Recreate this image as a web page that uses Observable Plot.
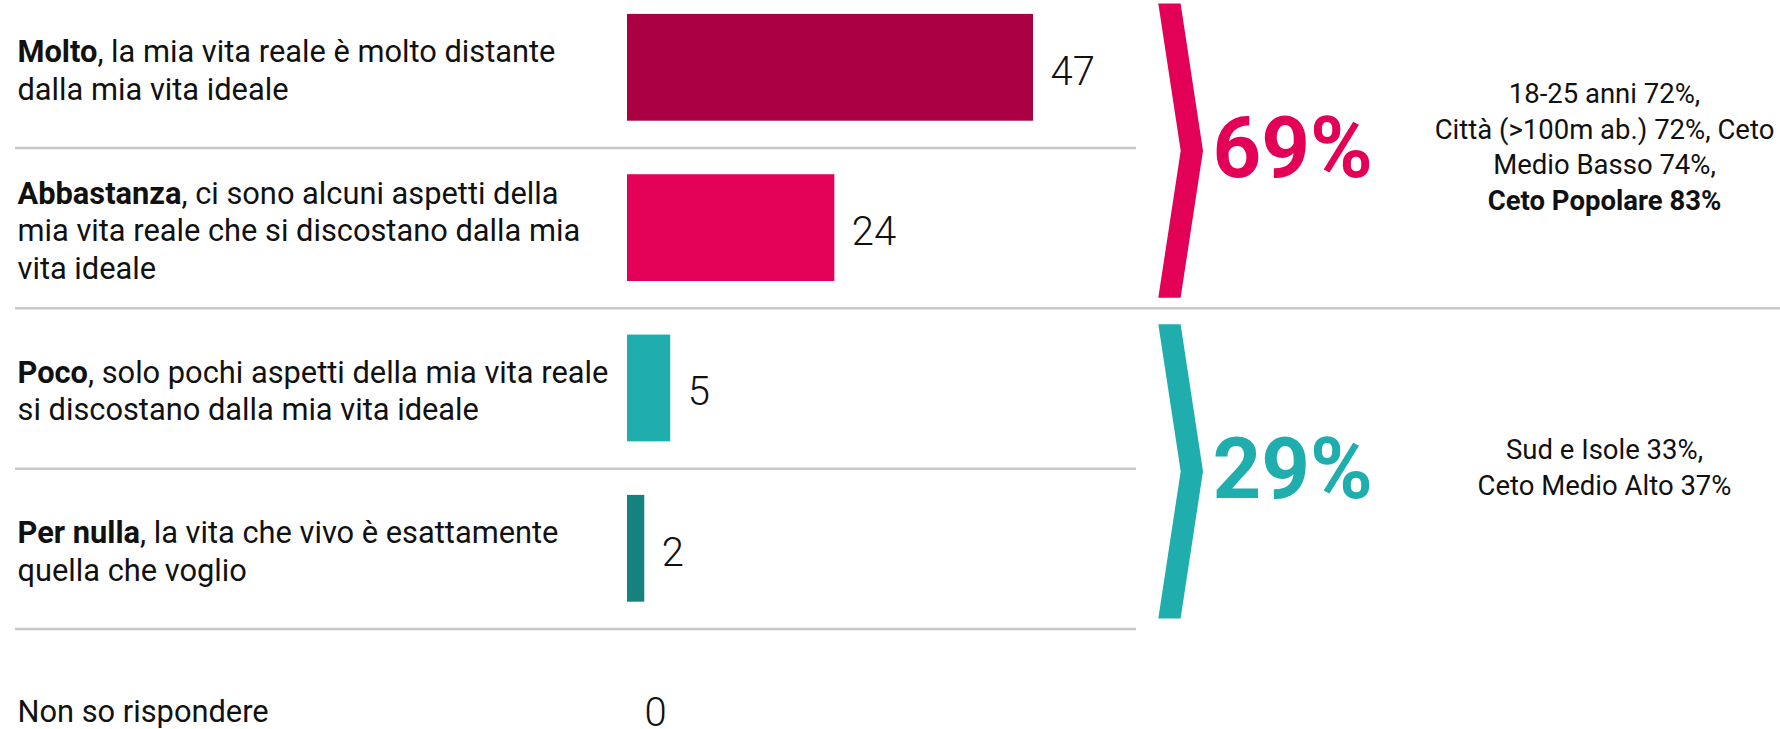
<!DOCTYPE html>
<html>
<head>
<meta charset="utf-8">
<script src="https://cdn.jsdelivr.net/npm/d3@7"></script>
<script src="https://cdn.jsdelivr.net/npm/@observablehq/plot@0.6"></script>
<style>
  html, body { margin: 0; padding: 0; background: #fff; overflow: hidden; }
  #chart svg { display: block; }
</style>
</head>
<body>
<div id="chart"></div>
<script>
// ---------------- DATA ----------------
const categories = ["Molto", "Abbastanza", "Poco", "Per nulla", "Non so rispondere"];
const labelRest = [
  ", la mia vita reale è molto distante\ndalla mia vita ideale",
  ", ci sono alcuni aspetti della\nmia vita reale che si discostano dalla mia\nvita ideale",
  ", solo pochi aspetti della mia vita reale\nsi discostano dalla mia vita ideale",
  ", la vita che vivo è esattamente\nquella che voglio",
  ""
];
const boldWords = ["Molto", "Abbastanza", "Poco", "Per nulla"];
const values = [47, 24, 5, 2, 0];

const groupTotals = [69, 29];
const groupMembers = [["Molto", "Abbastanza"], ["Poco", "Per nulla"]];
const groupNotes = [
  "18-25 anni 72%,\nCittà (>100m ab.) 72%, Ceto\nMedio Basso 74%,\nCeto Popolare 83%",
  "Sud e Isole 33%,\nCeto Medio Alto 37%"
];
const groupNoteBoldLines = ["Ceto Popolare 83%"];

// ---------------- STYLE / LAYOUT ----------------
const barColors = ["#ab0042", "#e30057", "#1faead", "#168280", "#999999"];
const groupColors = ["#e30057", "#1faead"];
const W = 1780, H = 729;
const xRange = [627, 1033];           // pixel span of 0..max value
const rowStep = 160.33, firstRow = 67.3;
const barHalf = 0.333;                 // half bar thickness, in row units
const xs = d3.scaleLinear([0, d3.max(values)], xRange);

const rows = categories.map((c, i) => ({
  category: c, index: i, value: values[i], label: c + labelRest[i],
  y1: i - barHalf, y2: i + barHalf
}));

// separators between rows; full width at group boundary
const groupEnds = groupMembers.map(m => categories.indexOf(m[m.length - 1]));
const seps = d3.range(categories.length - 1).map(i => ({
  y: i + 0.5,
  x1: xs.invert(15),
  x2: groupEnds[0] === i ? xs.invert(W) : xs.invert(1136)
}));

const groups = groupMembers.map((m, gi) => {
  const idx = m.map(c => categories.indexOf(c));
  return { total: groupTotals[gi], note: groupNotes[gi], c: d3.mean(idx) + 0.02, gi };
});

const chevA = xs.invert(1158.3), unit = (xRange[1] - xRange[0]) / d3.max(values);
const chevW = 22.3 / unit, chevS = 22.4 / unit, chevH = 0.918;
const chevrons = groups.map(g => [
  { y: g.c - chevH, xl: chevA, xr: chevA + chevW },
  { y: g.c, xl: chevA + chevS, xr: chevA + chevS + chevW },
  { y: g.c + chevH, xl: chevA, xr: chevA + chevW }
]);

const plot = Plot.plot({
  width: W,
  height: H,
  margin: 0,
  x: { domain: [0, d3.max(values)], range: xRange, axis: null },
  y: { domain: [-firstRow / rowStep, (H - firstRow) / rowStep], range: [0, H], axis: null },
  color: { domain: categories, range: barColors },
  style: { fontFamily: "Roboto, sans-serif", background: "#fff", color: "#111" },
  marks: [
    Plot.ruleY(seps, { y: "y", x1: "x1", x2: "x2", stroke: "#c8c8c8", strokeWidth: 2.5 }),
    Plot.rect(rows.filter(d => d.value > 0), {
      x1: 0, x2: "value", y1: "y1", y2: "y2", fill: "category"
    }),
    Plot.text(rows, {
      x: "value", y: "index", text: d => String(d.value),
      textAnchor: "start", dx: 17, dy: 4, fontSize: 40, fontWeight: 300, fill: "#111"
    }),
    Plot.text(rows, {
      frameAnchor: "left", y: "index", text: "label",
      textAnchor: "start", lineAnchor: "middle", dx: 17, dy: 1,
      fontSize: 30.8, lineHeight: 1.22, fill: "#111"
    }),
    ...chevrons.map((pts, gi) => Plot.areaX(pts, {
      y: "y", x1: "xl", x2: "xr", fill: groupColors[gi], curve: "linear"
    })),
    ...groups.map((g, gi) => Plot.text([g], {
      x: xs.invert(1212), y: "c", text: d => d.total + "%",
      textAnchor: "start", fontSize: 85, fontWeight: 700, fill: groupColors[gi], dy: -1
    })),
    Plot.text(groups, {
      x: xs.invert(1604), y: "c", text: "note",
      textAnchor: "middle", lineAnchor: "middle", fontSize: 27.5, lineHeight: 1.3, dy: -6, fill: "#111"
    })
  ]
});

// bold fragments
plot.querySelectorAll("text").forEach(t => {
  const first = t.querySelector("tspan") || t;
  const txt = first.textContent;
  for (const b of boldWords) {
    if (txt.startsWith(b + ",")) {
      first.textContent = "";
      const bt = document.createElementNS("http://www.w3.org/2000/svg", "tspan");
      bt.setAttribute("font-weight", "bold");
      bt.textContent = b;
      first.appendChild(bt);
      first.appendChild(document.createTextNode(txt.slice(b.length)));
      break;
    }
  }
  t.querySelectorAll("tspan").forEach(ts => {
    if (groupNoteBoldLines.includes(ts.textContent)) ts.setAttribute("font-weight", "bold");
  });
});

document.getElementById("chart").appendChild(plot);
</script>
</body>
</html>
